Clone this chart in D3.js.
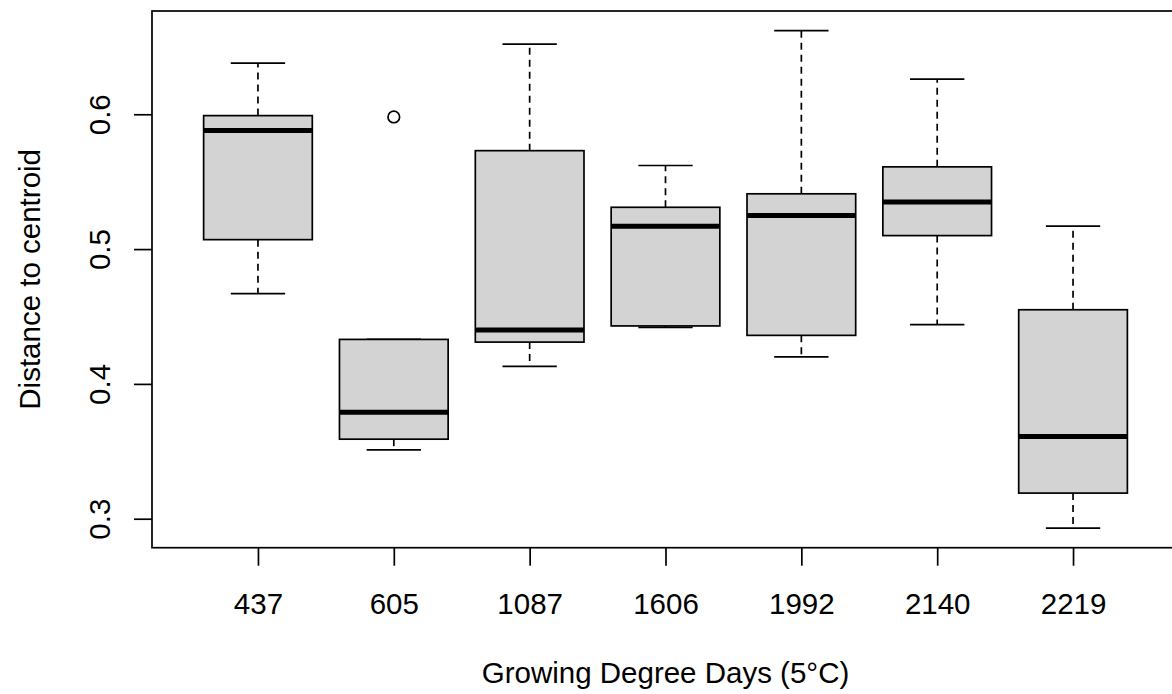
<!DOCTYPE html>
<html>
<head>
<meta charset="utf-8">
<script src="https://cdn.jsdelivr.net/npm/d3@7"></script>
<style>
    body { margin: 0; background: #ffffff; }
    text { font-family: "Liberation Sans", Arial, sans-serif; fill: #000000; }
</style>
</head>
<body>
<div id="chart-container"></div>
<script>
// Group labels (Growing Degree Days)
var categories = ["437", "605", "1087", "1606", "1992", "2140", "2219"];

// Five-number summaries
var lowerWhisker = [0.467, 0.351, 0.413, 0.442, 0.420, 0.444, 0.293];
var q1 = [0.507, 0.359, 0.431, 0.443, 0.436, 0.510, 0.319];
var median = [0.588, 0.379, 0.440, 0.517, 0.525, 0.535, 0.361];
var q3 = [0.599, 0.433, 0.573, 0.531, 0.541, 0.561, 0.455];
var upperWhisker = [0.638, 0.433, 0.652, 0.562, 0.662, 0.626, 0.517];

// Outliers: group index and value
var outlierGroup = [2];
var outlierValue = [0.598];

var yTicks = [0.3, 0.4, 0.5, 0.6];

var width = 1172;
var height = 694;
var plotLeft = 152;
var plotRight = 1179;
var plotTop = 11;
var plotBottom = 547.7;

var svg = d3.select("#chart-container").append("svg")
    .attr("width", width)
    .attr("height", height);

svg.append("rect")
    .attr("width", width)
    .attr("height", height)
    .attr("fill", "#ffffff");

// R style x range: 0.5 .. n+0.5 expanded by 4%
var x = d3.scaleLinear()
    .domain([0.22, 7.78])
    .range([plotLeft, plotRight]);

var y = d3.scaleLinear()
    .domain([0.2785, 0.6766])
    .range([plotBottom, plotTop]);

var boxHalf = 0.4;   // box half width in group units
var capHalf = 0.2;   // whisker cap half width

var stats = categories.map(function(c, i) {
    return {
        pos: i + 1,
        lw: lowerWhisker[i],
        q1: q1[i],
        med: median[i],
        q3: q3[i],
        uw: upperWhisker[i]
    };
});

var groups = svg.selectAll("g.box")
    .data(stats)
    .enter()
    .append("g")
    .attr("class", "box");

// Dashed whiskers
groups.append("line")
    .attr("x1", function(d) { return x(d.pos); })
    .attr("x2", function(d) { return x(d.pos); })
    .attr("y1", function(d) { return y(d.q3); })
    .attr("y2", function(d) { return y(d.uw); })
    .attr("stroke", "#000")
    .attr("stroke-width", 1.7)
    .attr("stroke-dasharray", "7,5");

groups.append("line")
    .attr("x1", function(d) { return x(d.pos); })
    .attr("x2", function(d) { return x(d.pos); })
    .attr("y1", function(d) { return y(d.q1); })
    .attr("y2", function(d) { return y(d.lw); })
    .attr("stroke", "#000")
    .attr("stroke-width", 1.7)
    .attr("stroke-dasharray", "7,5");

// Whisker caps
["uw", "lw"].forEach(function(key) {
    groups.append("line")
        .attr("x1", function(d) { return x(d.pos - capHalf); })
        .attr("x2", function(d) { return x(d.pos + capHalf); })
        .attr("y1", function(d) { return y(d[key]); })
        .attr("y2", function(d) { return y(d[key]); })
        .attr("stroke", "#000")
        .attr("stroke-width", 1.7);
});

// Boxes
groups.append("rect")
    .attr("x", function(d) { return x(d.pos - boxHalf); })
    .attr("width", function(d) { return x(d.pos + boxHalf) - x(d.pos - boxHalf); })
    .attr("y", function(d) { return y(d.q3); })
    .attr("height", function(d) { return y(d.q1) - y(d.q3); })
    .attr("fill", "#d3d3d3")
    .attr("stroke", "#000")
    .attr("stroke-width", 1.7);

// Medians
groups.append("line")
    .attr("x1", function(d) { return x(d.pos - boxHalf); })
    .attr("x2", function(d) { return x(d.pos + boxHalf); })
    .attr("y1", function(d) { return y(d.med); })
    .attr("y2", function(d) { return y(d.med); })
    .attr("stroke", "#000")
    .attr("stroke-width", 5);

// Outlier points
svg.selectAll("circle.outlier")
    .data(outlierValue)
    .enter()
    .append("circle")
    .attr("class", "outlier")
    .attr("cx", function(d, i) { return x(outlierGroup[i]); })
    .attr("cy", function(d) { return y(d); })
    .attr("r", 5.8)
    .attr("fill", "none")
    .attr("stroke", "#000")
    .attr("stroke-width", 1.7);

// Plot frame
svg.append("rect")
    .attr("x", plotLeft)
    .attr("y", plotTop)
    .attr("width", plotRight - plotLeft)
    .attr("height", plotBottom - plotTop)
    .attr("fill", "none")
    .attr("stroke", "#000")
    .attr("stroke-width", 1.7);

// Y axis
var yAxis = svg.append("g")
    .attr("transform", "translate(" + plotLeft + ",0)")
    .call(d3.axisLeft(y).tickValues(yTicks).tickSize(18).tickFormat(d3.format(".1f")));

yAxis.select(".domain").remove();
yAxis.selectAll("line").attr("stroke-width", 1.7);
yAxis.selectAll("text")
    .attr("transform", "rotate(-90)")
    .attr("x", 0)
    .attr("y", -42)
    .attr("dy", 0)
    .attr("text-anchor", "middle")
    .style("font-size", "29.5px")
    .style("font-family", "'Liberation Sans', Arial, sans-serif")
    .attr("fill", "#000");

// X axis
var xAxis = svg.append("g")
    .attr("transform", "translate(0," + plotBottom + ")")
    .call(d3.axisBottom(x)
        .tickValues(d3.range(1, categories.length + 1))
        .tickSize(18)
        .tickFormat(function(d) { return categories[d - 1]; }));

xAxis.select(".domain").remove();
xAxis.selectAll("line").attr("stroke-width", 1.7);
xAxis.selectAll("text")
    .attr("y", 66)
    .attr("dy", 0)
    .style("font-size", "29.5px")
    .style("font-family", "'Liberation Sans', Arial, sans-serif")
    .attr("fill", "#000");

// Axis titles
svg.append("text")
    .attr("x", (plotLeft + plotRight) / 2)
    .attr("y", 683)
    .attr("text-anchor", "middle")
    .style("font-size", "29.5px")
    .text("Growing Degree Days (5°C)");

svg.append("text")
    .attr("transform", "translate(40," + ((plotTop + plotBottom) / 2) + ") rotate(-90)")
    .attr("text-anchor", "middle")
    .style("font-size", "29.5px")
    .text("Distance to centroid");
</script>
</body>
</html>
